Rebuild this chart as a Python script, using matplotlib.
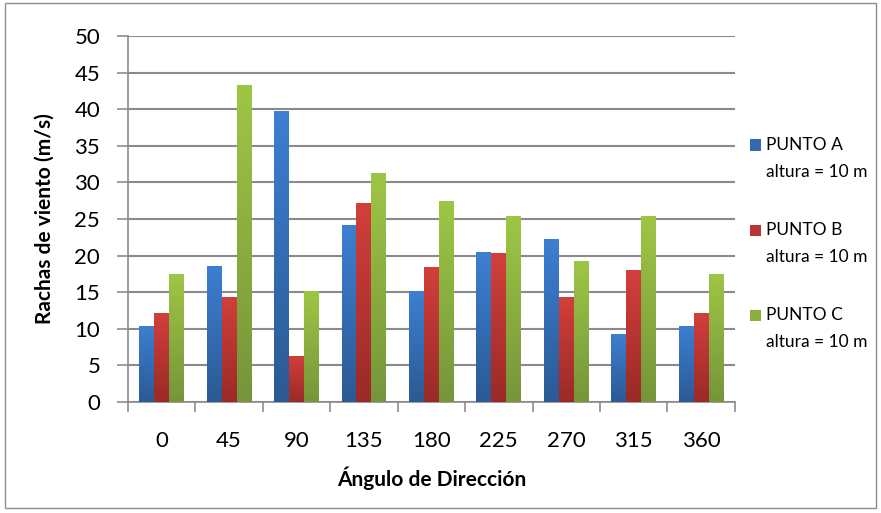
# recreate the wind gust bar chart (Excel-style gradient bars)

import numpy as np
import matplotlib.pyplot as plt
from matplotlib.patches import Rectangle
from matplotlib.colors import LinearSegmentedColormap

plt.rcParams['font.family'] = ['Lato', 'DejaVu Sans']

angles = ["0", "45", "90", "135", "180", "225", "270", "315", "360"]
punto_a = [10.4, 18.6, 39.8, 24.2, 15.1, 20.5, 22.3, 9.3, 10.4]
punto_b = [12.1, 14.3, 6.3, 27.2, 18.4, 20.3, 14.3, 18.0, 12.1]
punto_c = [17.5, 43.3, 15.1, 31.3, 27.4, 25.4, 19.2, 25.4, 17.5]
names = ["PUNTO A", "PUNTO B", "PUNTO C"]
subtitle = "altura = 10 m"

# (top colour, bottom colour) of each series gradient
grads = [("#3d7fd2", "#2b5a94"), ("#d23f3b", "#9a2a28"), ("#9ec645", "#76953a")]
legend_cols = ["#3468b0", "#b83532", "#8aaf3f"]

fig = plt.figure(figsize=(8.81, 5.13), dpi=100)
fig.patches.append(Rectangle((0.006, 0.01), 0.988, 0.985, transform=fig.transFigure,
                             fill=False, edgecolor="#8c8c8c", linewidth=1.0))
ax = fig.add_axes([0.1453, 0.2164, 0.6887, 0.7136])

x = np.arange(len(angles))
w = 0.222
for i, (vals, (top, bot)) in enumerate(zip([punto_a, punto_b, punto_c], grads)):
    cmap = LinearSegmentedColormap.from_list(f"g{i}", [bot, top])
    bars = ax.bar(x + (i - 1) * w, vals, w, color=top, zorder=3, linewidth=0)
    for b in bars:
        x0 = b.get_x()
        bw, bh = b.get_width(), b.get_height()
        im = ax.imshow(np.linspace(0, 1, 100).reshape(-1, 1), cmap=cmap, aspect="auto",
                       origin="lower", extent=[x0, x0 + bw, 0, bh], zorder=4)
        im.set_clip_path(b)

ax.set_xlim(-0.5, len(angles) - 0.5)
ax.set_ylim(0, 50)
ax.set_yticks(range(0, 51, 5))
ax.set_xticks(x)
ax.set_xticklabels(angles)
ax.set_xticks(np.arange(-0.5, len(angles)), minor=True)
ax.tick_params(axis="x", which="major", length=0, labelsize=16, pad=21, colors="black")
ax.tick_params(axis="x", which="minor", length=7, direction="out", color="#8c8c8c", width=1.2)
ax.tick_params(axis="y", length=8, direction="out", labelsize=16, pad=12,
               color="#8c8c8c", width=1.2)

ax.grid(axis="y", color="#8a8a8a", linewidth=1.5, zorder=1)
ax.set_axisbelow(True)
for s in ["top", "right"]:
    ax.spines[s].set_visible(False)
for s in ["left", "bottom"]:
    ax.spines[s].set_color("#8c8c8c")
    ax.spines[s].set_linewidth(1.2)

ax.set_ylabel("Rachas de viento (m/s)", fontsize=15, fontweight="bold", labelpad=14)
ax.set_xlabel("Ángulo de Dirección", fontsize=15, fontweight="bold", labelpad=11)

# legend: square aligned with the first line of each two-line entry
for i, (col, name) in enumerate(zip(legend_cols, names)):
    yc = 1 - (145 + i * 85) / 513
    fig.patches.append(Rectangle((750 / 881, yc - 5.5 / 513), 11 / 881, 11 / 513,
                                 transform=fig.transFigure, facecolor=col, edgecolor="none"))
    fig.text(766 / 881, yc, name, fontsize=12.5, va="center", ha="left")
    fig.text(766 / 881, yc - 27 / 513, subtitle, fontsize=12.5, va="center", ha="left")

fig.savefig("out.png", dpi=100)
